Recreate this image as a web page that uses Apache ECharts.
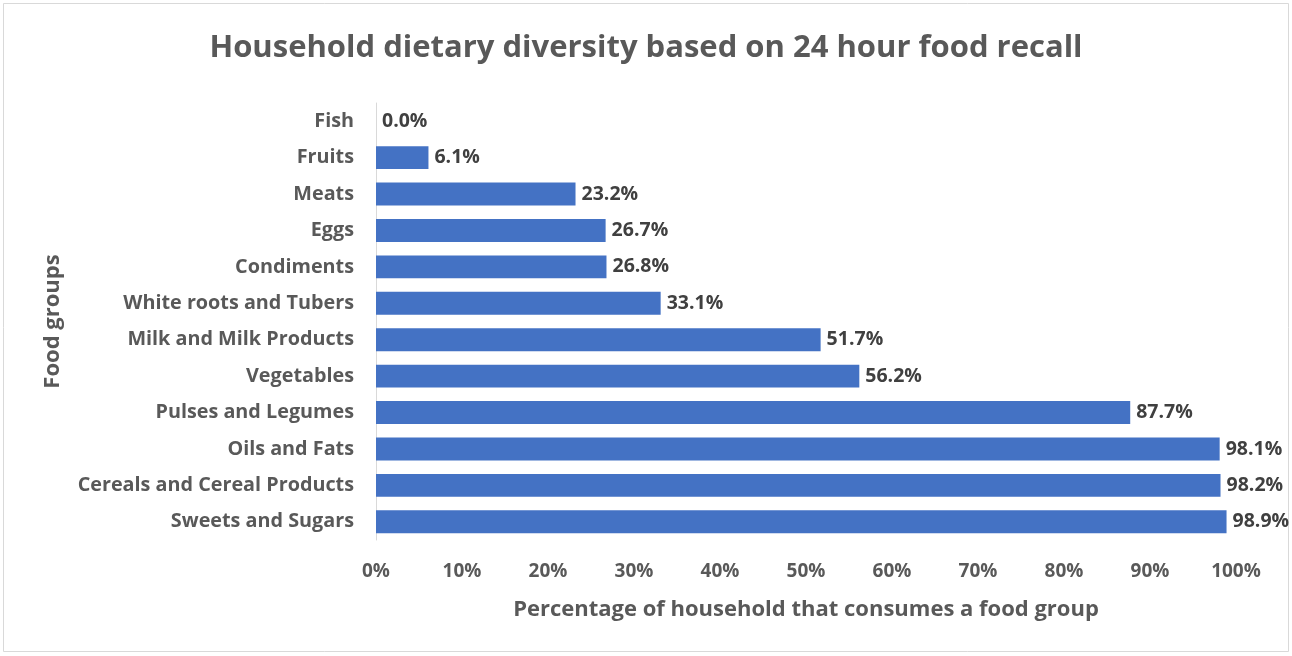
<!DOCTYPE html>
<html><head><meta charset="utf-8">
<script src="https://cdn.jsdelivr.net/npm/echarts@6/dist/echarts.min.js"></script>
<style>html,body{margin:0;padding:0;background:#fff}#c{width:1292px;height:656px}</style>
</head><body><div id="c"></div>
<script>
const categories = ["Fish","Fruits","Meats","Eggs","Condiments","White roots and Tubers","Milk and Milk Products","Vegetables","Pulses and Legumes","Oils and Fats","Cereals and Cereal Products","Sweets and Sugars"];
const values = [0.0, 6.1, 23.2, 26.7, 26.8, 33.1, 51.7, 56.2, 87.7, 98.1, 98.2, 98.9];
const FONT = "'Open Sans', sans-serif";
const chart = echarts.init(document.getElementById('c'));
chart.setOption({
  backgroundColor: '#fff',
  animation: false,
  graphic: [{type:'rect', shape:{x:3.5,y:3.5,width:1285,height:648}, style:{fill:'none', stroke:'#d9d9d9', lineWidth:1}}],
  title: {text: 'Household dietary diversity based on 24 hour food recall', left: 'center', top: 28,
    textStyle: {fontFamily: FONT, fontWeight: 'bold', fontSize: 31, color: '#595959'}},
  grid: {left: 376, right: 56, top: 103, bottom: 116, containLabel: false},
  xAxis: {type: 'value', min: 0, max: 100, interval: 10,
    name: 'Percentage of household that consumes a food group', nameLocation: 'middle', nameGap: 59,
    nameTextStyle: {fontFamily: FONT, fontWeight: 'bold', fontSize: 22, color: '#595959'},
    axisLabel: {formatter: v => v + '%', fontFamily: FONT, fontWeight: 'bold', fontSize: 19, color: '#595959', margin: 22},
    axisLine: {show: false}, axisTick: {show: false}, splitLine: {show: false}},
  yAxis: {type: 'category', data: categories, inverse: true,
    name: 'Food groups', nameLocation: 'middle', nameGap: 312, nameRotate: 90,
    nameTextStyle: {fontFamily: FONT, fontWeight: 'bold', fontSize: 22, color: '#595959'},
    axisLabel: {fontFamily: FONT, fontWeight: 'bold', fontSize: 19.8, color: '#595959', margin: 22},
    axisLine: {show: true, lineStyle: {color: '#d9d9d9', width: 1}}, axisTick: {show: false}},
  series: [{type: 'bar', data: values, barWidth: '63%',
    itemStyle: {color: '#4472c4'},
    label: {show: true, position: 'right', distance: 6, formatter: p => p.value.toFixed(1) + '%',
      fontFamily: FONT, fontWeight: 'bold', fontSize: 19.5, color: '#404040'}}]
});
</script></body></html>
